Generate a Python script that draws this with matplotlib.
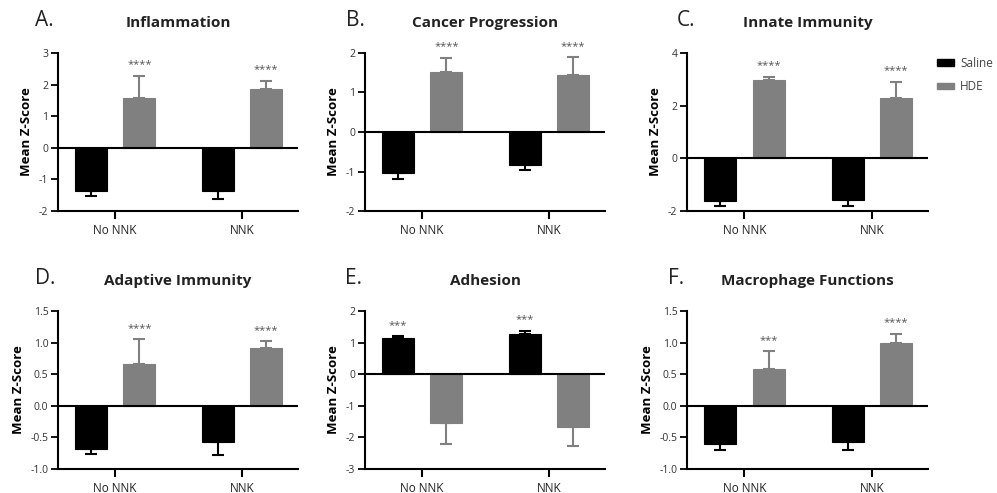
import numpy as np
import matplotlib
matplotlib.use('Agg')
import matplotlib.pyplot as plt
from matplotlib.patches import Patch

plt.rcParams['font.family'] = ['Open Sans', 'DejaVu Sans']

# ── Data ─────────────────────────────────────────────────────────────────────
GROUPS = ['No NNK', 'NNK']

TITLES = ['Inflammation', 'Cancer Progression', 'Innate Immunity',
          'Adaptive Immunity', 'Adhesion', 'Macrophage Functions']
LETTERS = ['A.', 'B.', 'C.', 'D.', 'E.', 'F.']

saline_mean = [[-1.36, -1.36], [-1.05, -0.84], [-1.61, -1.58],
               [-0.69, -0.57], [1.14, 1.26], [-0.61, -0.58]]
saline_err = [[0.16, 0.25], [0.14, 0.11], [0.19, 0.24],
              [0.08, 0.21], [0.06, 0.11], [0.09, 0.12]]
hde_mean = [[1.58, 1.87], [1.52, 1.45], [2.98, 2.28],
            [0.66, 0.91], [-1.54, -1.66], [0.58, 0.99]]
hde_err = [[0.70, 0.25], [0.36, 0.44], [0.12, 0.62],
           [0.39, 0.11], [0.66, 0.62], [0.28, 0.15]]

saline_stars = [['', ''], ['', ''], ['', ''], ['', ''], ['***', '***'], ['', '']]
hde_stars = [['****', '****'], ['****', '****'], ['****', '****'],
             ['****', '****'], ['', ''], ['***', '****']]

YLIMS = [(-2, 3), (-2, 2), (-2, 4), (-1.0, 1.5), (-3, 2), (-1.0, 1.5)]
YTICKS = [np.arange(-2, 4, 1), np.arange(-2, 3, 1), np.arange(-2, 5, 2),
          np.arange(-1.0, 1.51, 0.5), np.arange(-3, 3, 1), np.arange(-1.0, 1.51, 0.5)]

SALINE_COLOR = '#000000'
HDE_COLOR = '#808080'

# ── Layout (pixel boxes of the axes in a 997x493 canvas) ─────────────────────
W, H = 997, 493
BOXES = [(58, 53, 240, 158), (365, 53, 240, 158), (687, 53, 241, 158),
         (58, 311, 240, 158), (365, 311, 240, 158), (687, 311, 241, 158)]
LETTER_X = [35, 346, 677, 35, 345, 668]

fig = plt.figure(figsize=(W / 100, H / 100), dpi=100)

x = np.arange(len(GROUPS))
off = 0.19
bw = 0.25

for i in range(6):
    l, t, w, h = BOXES[i]
    ax = fig.add_axes([l / W, 1 - (t + h) / H, w / W, h / H])

    for xs, means, errs, col, stars in [
            (x - off, saline_mean[i], saline_err[i], SALINE_COLOR, saline_stars[i]),
            (x + off, hde_mean[i], hde_err[i], HDE_COLOR, hde_stars[i])]:
        means = np.array(means)
        errs = np.array(errs)
        ax.bar(xs, means, width=bw, color=col, edgecolor=col, lw=0.8, zorder=2)
        lower = np.where(means < 0, errs, 0)
        upper = np.where(means >= 0, errs, 0)
        ax.errorbar(xs, means, yerr=[lower, upper], fmt='none', ecolor=col,
                    elinewidth=1.5, capsize=4.5, capthick=1.5, zorder=1)
        for xi, m, e, s in zip(xs, means, errs, stars):
            if s:
                ax.annotate(s, (xi, m + e), xytext=(0, 4), textcoords='offset points',
                            ha='center', va='bottom', fontsize=8, color='#555555')

    ax.axhline(0, color='black', lw=1.5, zorder=3)
    ax.set_xlim(-0.45, 1.44)
    ax.set_ylim(*YLIMS[i])
    ax.set_yticks(YTICKS[i])
    if i in (3, 5):
        ax.set_yticklabels([f'{v:.1f}' for v in YTICKS[i]])
    else:
        ax.set_yticklabels([f'{v:.0f}' for v in YTICKS[i]])
    ax.set_xticks(x)
    ax.set_xticklabels(GROUPS)
    ax.spines['top'].set_visible(False)
    ax.spines['right'].set_visible(False)
    ax.spines['left'].set_linewidth(1.5)
    ax.spines['bottom'].set_linewidth(1.5)
    ax.tick_params(axis='y', labelsize=7.5, length=5, width=1.3, pad=2,
                   labelcolor='#333333')
    ax.tick_params(axis='x', labelsize=8.5, length=6, width=1.5, pad=3,
                   labelcolor='#222222')
    ax.set_ylabel('Mean Z-Score', fontsize=9.5, fontweight='bold', labelpad=4)

    fig.text((l + w / 2) / W, 1 - (t - 30) / H, TITLES[i], ha='center', va='center',
             fontsize=11, fontweight='bold', color='#222222')
    fig.text(LETTER_X[i] / W, 1 - (t - 32) / H, LETTERS[i], ha='left', va='center',
             fontsize=15, color='#222222')

handles = [Patch(facecolor=SALINE_COLOR, edgecolor=SALINE_COLOR, label='Saline'),
           Patch(facecolor=HDE_COLOR, edgecolor=HDE_COLOR, label='HDE')]
fig.legend(handles=handles, loc='upper left', bbox_to_anchor=(926 / W, 1 - 46 / H),
           frameon=False, fontsize=8.5, handlelength=1.5, handleheight=0.45,
           handletextpad=0.5, labelspacing=0.9, labelcolor='#444444')

fig.savefig('out.png', dpi=100)
